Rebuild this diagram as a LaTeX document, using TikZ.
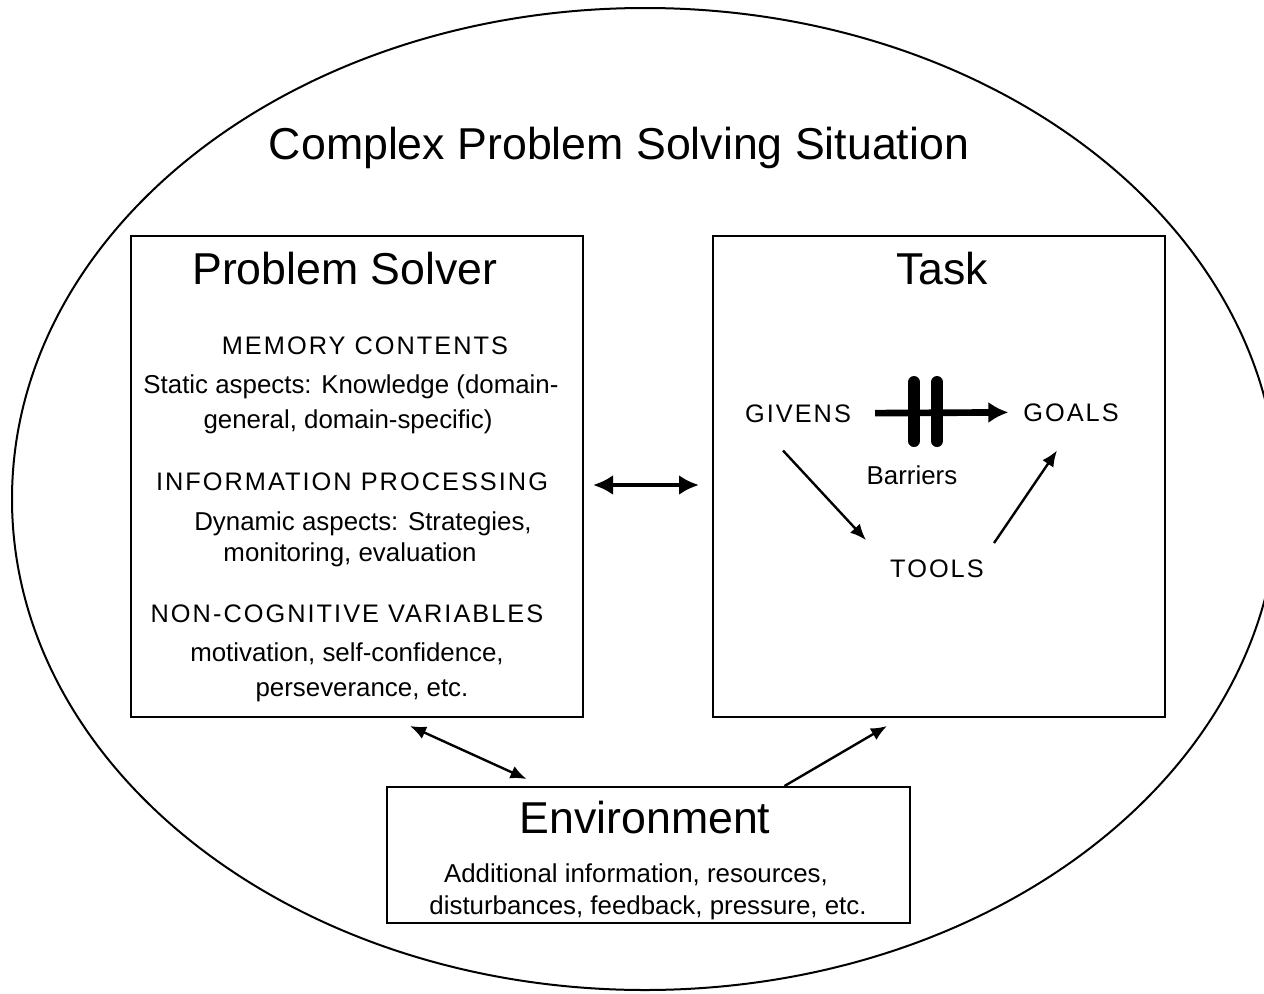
\documentclass[tikz,border=0pt]{standalone}
\usepackage{fontspec}
\setmainfont{Liberation Sans}
\newfontfamily\capsfont[LetterSpace=8]{Liberation Sans}
\usetikzlibrary{arrows.meta}
\begin{document}
\begin{tikzpicture}[x=0.75pt,y=-0.75pt,
  txt/.style={anchor=base,inner sep=0pt,font=\fontsize{19.4}{23}\selectfont},
  captxt/.style={anchor=base,inner sep=0pt,font=\capsfont\fontsize{19}{23}\selectfont},
  head/.style={anchor=base,inner sep=0pt,font=\fontsize{33.5}{40}\selectfont},
  boxx/.style={draw,line width=1.5pt,inner sep=0pt},
  bigdbl/.style={{Latex[length=15pt,width=15pt]}-{Latex[length=15pt,width=15pt]},line width=3.6pt},
  thickarr/.style={-{Latex[length=15pt,width=16pt]},line width=5pt},
  thinarr/.style={-{Latex[length=12pt,width=10pt]},line width=1.8pt},
  thindbl/.style={{Latex[length=12pt,width=10pt]}-{Latex[length=12pt,width=10pt]},line width=1.8pt},
  barrier/.style={line width=9pt,line cap=round}
]
\useasboundingbox (0,0) rectangle (1264,993);
\begin{scope}
  \clip (0,0) rectangle (1264,993);
  \draw[line width=1.5pt] (645,499) ellipse [x radius=474.75pt, y radius=368.25pt];
\end{scope}

\node[head] (title) at (619,159) {Complex Problem Solving Situation};

% boxes
\node[boxx,minimum width=339pt,minimum height=360.75pt] (ps) at (357,476.5) {};
\node[boxx,minimum width=339pt,minimum height=360.75pt] (task) at (939,476.5) {};
\node[boxx,minimum width=392.25pt,minimum height=102pt] (env) at (648.5,855) {};

% Problem Solver
\node[head] (psh) at (345,284) {Problem Solver};
\node[captxt] (mem) at (365,354) {MEMORY CONTENTS};
\node[txt] (st1) at (351,393) {Static aspects: Knowledge (domain-};
\node[txt] (st2) at (348,428) {general, domain-specific)};
\node[captxt] (inf) at (352,490) {INFORMATION PROCESSING};
\node[txt] (dy1) at (363,530) {Dynamic aspects: Strategies,};
\node[txt] (dy2) at (350,561) {monitoring, evaluation};
\node[captxt] (non) at (347,622) {NON-COGNITIVE VARIABLES};
\node[txt] (mo1) at (347,661) {motivation, self-confidence,};
\node[txt] (mo2) at (362,696) {perseverance, etc.};

% Task
\node[head] (taskh) at (942,284) {Task};
\node[captxt] (givens) at (798,422) {GIVENS};
\node[captxt] (goals) at (1071,421) {GOALS};
\node[txt] (barr) at (912,484) {Barriers};
\node[captxt] (tools) at (937,577) {TOOLS};
\draw[barrier] (914,382) -- (914,441);
\draw[barrier] (937,382) -- (937,441);
\draw[thickarr,shorten <=18pt,shorten >=11pt] (givens.east) -- (goals.west);
\draw[thinarr] ([shift={(-15,28)}]givens.south) -- ([shift={(-24,-19)}]tools.north west);
\draw[thinarr] ([shift={(10,-16)}]tools.north east) -- ([shift={(-14,29)}]goals.south);

% Environment
\node[head] (envh) at (645,833) {Environment};
\node[txt] (en1) at (636,882) {Additional information, resources,};
\node[txt] (en2) at (648,914) {disturbances, feedback, pressure, etc.};

% connectors between boxes
\draw[bigdbl] ([shift={(9,8.5)}]ps.east) -- ([shift={(-13,8.5)}]task.west);
\draw[thindbl] ([shift={(53,8)}]ps.south) -- ([shift={(-122,-7)}]env.north);
\draw[thinarr] ([shift={(136,0)}]env.north) -- ([shift={(-52,8)}]task.south);
\end{tikzpicture}
\end{document}
